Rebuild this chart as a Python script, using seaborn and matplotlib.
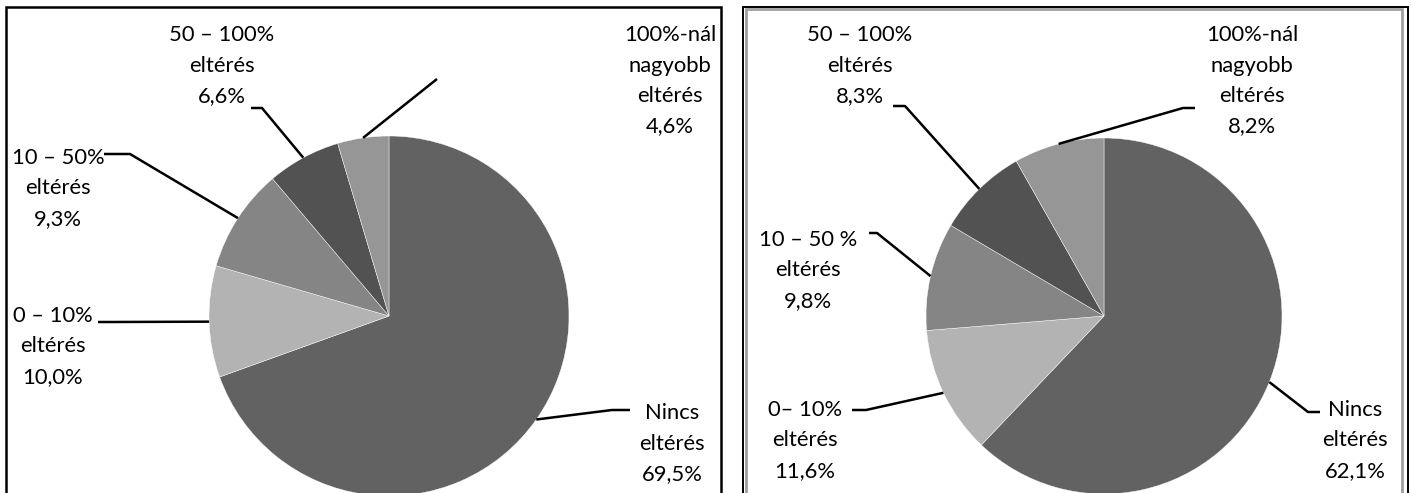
import numpy as np
import matplotlib
matplotlib.use("Agg")
import matplotlib.pyplot as plt
import seaborn as sns
from matplotlib.patches import Rectangle

# adatok (két felmérés)
categories_left = ["Nincs\neltérés", "0 – 10%\neltérés", "10 – 50%\neltérés",
                   "50 – 100%\neltérés", "100%-nál\nnagyobb\neltérés"]
values_left = [69.5, 10.0, 9.3, 6.6, 4.6]

categories_right = ["Nincs\neltérés", "0– 10%\neltérés", "10 – 50 %\neltérés",
                    "50 – 100%\neltérés", "100%-nál\nnagyobb\neltérés"]
values_right = [62.1, 11.6, 9.8, 8.3, 8.2]

slice_colors = ["#626262", "#b3b3b3", "#858585", "#525252", "#969696"]

W, H = 1411, 493

sns.set_theme(style="white")
plt.rcParams['font.family'] = ['Lato', 'DejaVu Sans']


def Y(y):
    # képpont y (felülről) -> tengely y (alulról)
    return H - y


def draw_panel(ax, values, cats, cx, cy, r, label_pos, elbows):
    wedges, _ = ax.pie(values, colors=slice_colors, startangle=90, counterclock=False,
                       center=(cx, Y(cy)), radius=r, frame=True,
                       wedgeprops=dict(linewidth=0.3, edgecolor="white"))
    for w, v, cat, (tx, ty), (e1, e2) in zip(wedges, values, cats, label_pos, elbows):
        lines = cat.split("\n") + [f"{v:.1f}%".replace(".", ",")]
        for i, s in enumerate(lines):
            ax.text(tx, Y(ty + i * 30.5), s, ha="center", va="center",
                    fontsize=15.8, color="black")
        # vezetővonal a szelet közepéhez
        mid = np.deg2rad((w.theta1 + w.theta2) / 2)
        px = cx + r * np.cos(mid)
        py = Y(cy) + r * np.sin(mid)
        xs = [e1[0], e2[0], px]
        ys = [Y(e1[1]), Y(e2[1]), py]
        ax.plot(xs, ys, color="black", lw=1.8, solid_capstyle="butt")


fig = plt.figure(figsize=(W / 100, H / 100), dpi=100)
ax = fig.add_axes([0, 0, 1, 1])

# bal diagram
draw_panel(ax, values_left, categories_left, 389, 316, 180,
           label_pos=[(672, 413), (53, 316), (58, 158), (222, 35), (670, 35)],
           elbows=[((630, 410), (612, 410)), ((98, 322), (112, 322)),
                   ((104, 154), (130, 154)), ((251, 108), (262, 108)),
                   ((437, 79), (437, 79))])

# jobb diagram
draw_panel(ax, values_right, categories_right, 1104, 316, 178,
           label_pos=[(1355, 410), (805, 410), (808, 240), (860, 35), (1252, 35)],
           elbows=[((1320, 412), (1308, 412)), ((852, 410), (866, 410)),
                   ((869, 233), (877, 233)), ((893, 106), (905, 106)),
                   ((1195, 108), (1183, 108))])

# keretek
ax.add_patch(Rectangle((5.5, -20), 715, Y(7) + 20, fill=False, ec="black", lw=1.8))
ax.add_patch(Rectangle((742.5, -20), 665.5, Y(6.5) + 20, fill=False, ec="black", lw=1.4))
ax.add_patch(Rectangle((745.5, -20), 656, Y(9) + 20, fill=False, ec="#a0a0a0", lw=2.0))

ax.set_xlim(0, W)
ax.set_ylim(0, H)
ax.set_aspect("auto")
ax.axis("off")

fig.savefig("out.png", dpi=100)
plt.close("all")
